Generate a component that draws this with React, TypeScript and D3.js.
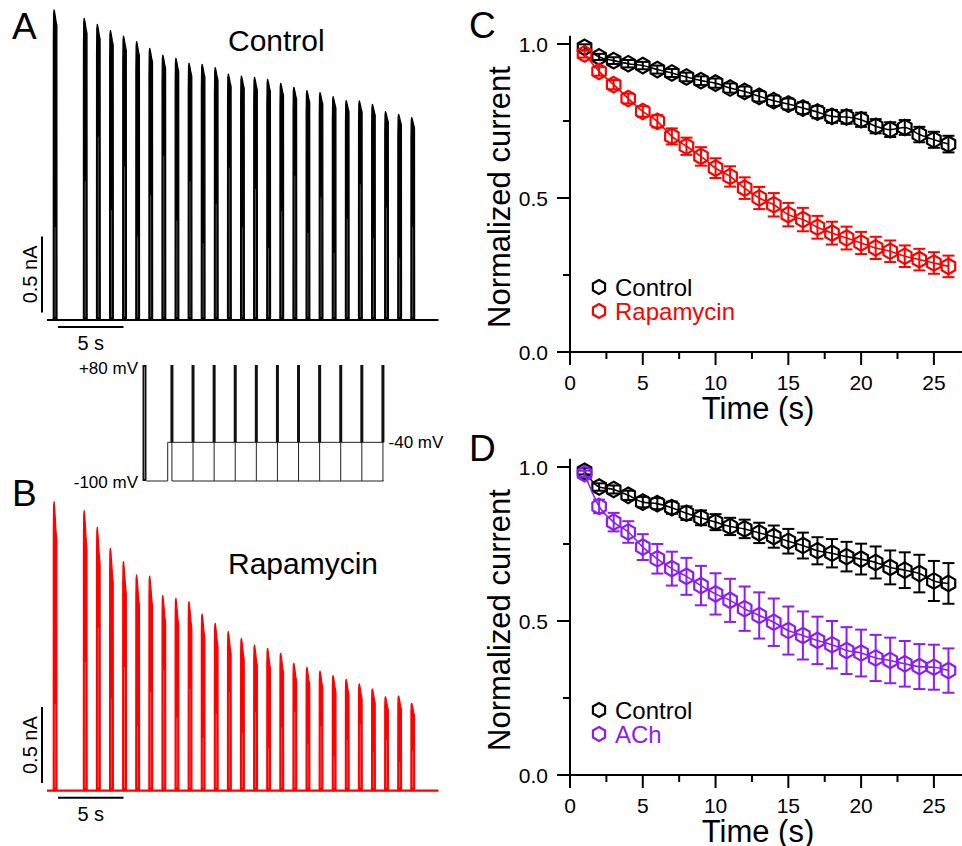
import React from "react";
import * as d3 from "d3";

const FONT = "'Liberation Sans', Arial, Helvetica, sans-serif";
const RED = "#FF0000";
const PURPLE = "#8A1EF5";

// ---------- Panels A/B: current traces ----------
const pulseTimes = [0, 2.3, 3.3, 4.3, 5.3, 6.3, 7.3, 8.3, 9.3, 10.3, 11.3, 12.3, 13.3, 14.3, 15.3, 16.3, 17.3, 18.3, 19.3, 20.3, 21.3, 22.3, 23.3, 24.3, 25.3, 26.3, 27.3];
const controlPeaks = [2.04, 1.985, 1.945, 1.904, 1.868, 1.831, 1.787, 1.743, 1.721, 1.689, 1.682, 1.66, 1.618, 1.605, 1.596, 1.583, 1.557, 1.531, 1.509, 1.496, 1.469, 1.443, 1.441, 1.419, 1.371, 1.353, 1.331];
const rapaPeaks = [1.901, 1.842, 1.732, 1.594, 1.507, 1.419, 1.412, 1.283, 1.265, 1.243, 1.162, 1.101, 1.046, 1.002, 0.958, 0.936, 0.904, 0.838, 0.811, 0.787, 0.757, 0.732, 0.702, 0.669, 0.618, 0.623, 0.575];
const pulseDuration = 0.27;

// ---------- Voltage protocol ----------
const protocolPulses = [1.3, 2.3, 3.3, 4.3, 5.3, 6.3, 7.3, 8.3, 9.3, 10.3, 11.3];
const protoStep = 1.1;
const protoEnd = 11.33;
const vTest = 80;
const vHold = -40;
const vRest = -100;

// ---------- Panels C/D ----------
const timePoints = [1, 2, 3, 4, 5, 6, 7, 8, 9, 10, 11, 12, 13, 14, 15, 16, 17, 18, 19, 20, 21, 22, 23, 24, 25, 26];
const cControl = [0.989, 0.958, 0.946, 0.936, 0.93, 0.917, 0.906, 0.893, 0.881, 0.873, 0.857, 0.846, 0.83, 0.816, 0.805, 0.792, 0.779, 0.765, 0.763, 0.754, 0.733, 0.722, 0.729, 0.706, 0.689, 0.675];
const cControlErr = [0.01, 0.01, 0.011, 0.012, 0.012, 0.013, 0.013, 0.014, 0.014, 0.015, 0.015, 0.016, 0.017, 0.017, 0.018, 0.019, 0.02, 0.021, 0.022, 0.023, 0.023, 0.024, 0.024, 0.025, 0.026, 0.027];
const cRapa = [0.968, 0.911, 0.868, 0.823, 0.781, 0.749, 0.7, 0.668, 0.635, 0.597, 0.57, 0.532, 0.5, 0.478, 0.446, 0.43, 0.405, 0.386, 0.37, 0.354, 0.338, 0.327, 0.311, 0.3, 0.289, 0.278];
const cRapaErr = [0.012, 0.014, 0.015, 0.016, 0.017, 0.02, 0.026, 0.028, 0.03, 0.032, 0.033, 0.035, 0.036, 0.038, 0.038, 0.038, 0.037, 0.037, 0.037, 0.036, 0.036, 0.035, 0.035, 0.035, 0.035, 0.035];
const dControl = [0.986, 0.935, 0.927, 0.908, 0.886, 0.881, 0.868, 0.85, 0.835, 0.821, 0.807, 0.799, 0.786, 0.774, 0.759, 0.745, 0.728, 0.72, 0.709, 0.701, 0.69, 0.674, 0.665, 0.654, 0.63, 0.622];
const dControlErr = [0.01, 0.012, 0.013, 0.015, 0.017, 0.018, 0.02, 0.022, 0.024, 0.026, 0.028, 0.03, 0.033, 0.036, 0.04, 0.042, 0.044, 0.046, 0.048, 0.05, 0.052, 0.055, 0.058, 0.061, 0.065, 0.066];
const dAch = [0.978, 0.872, 0.821, 0.789, 0.74, 0.702, 0.67, 0.645, 0.615, 0.588, 0.567, 0.54, 0.518, 0.496, 0.469, 0.453, 0.437, 0.423, 0.404, 0.396, 0.38, 0.372, 0.361, 0.352, 0.35, 0.339];
const dAchErr = [0.01, 0.022, 0.03, 0.035, 0.042, 0.048, 0.055, 0.06, 0.064, 0.067, 0.07, 0.072, 0.075, 0.077, 0.078, 0.078, 0.077, 0.077, 0.076, 0.076, 0.075, 0.074, 0.074, 0.073, 0.073, 0.072];
const xTicks = [0, 5, 10, 15, 20, 25];
const xMinor = [2.5, 7.5, 12.5, 17.5, 22.5];
const yTicks = [0, 0.5, 1.0];
const yMinor = [0.25, 0.75];

// ---------- helpers ----------
function spikePath(
  t0: number,
  peak: number,
  decay: number,
  xs: d3.ScaleLinear<number, number>,
  ys: d3.ScaleLinear<number, number>
) {
  const d = pulseDuration;
  const pts: [number, number][] = [
    [t0, 0],
    [t0 + 0.005, peak * 0.9],
    [t0 + 0.025, peak * 0.985],
    [t0 + 0.06, peak],
    [t0 + 0.1, peak * (1 - (1 - decay) * 0.15)],
    [t0 + 0.15, peak * (1 - (1 - decay) * 0.4)],
    [t0 + 0.2, peak * (1 - (1 - decay) * 0.7)],
    [t0 + d, peak * decay],
    [t0 + d + 0.01, 0],
  ];
  const line = d3
    .line<[number, number]>()
    .x((p) => xs(p[0]))
    .y((p) => ys(p[1]));
  return line(pts) + "Z";
}

function hexPath(r: number) {
  const pts: [number, number][] = d3.range(6).map((i) => {
    const a = -Math.PI / 2 + (i * Math.PI) / 3;
    return [r * Math.cos(a), r * Math.sin(a)];
  });
  return d3.line()(pts) + "Z";
}
const HEX = hexPath(7.8);

function TracePanel({
  peaks,
  color,
  baseY,
  title,
  titleY,
  label,
  labelY,
  decay,
}: {
  peaks: number[];
  color: string;
  baseY: number;
  title: string;
  titleY: number;
  label: string;
  labelY: number;
  decay: number;
}) {
  const xs = d3.scaleLinear().domain([0, 1]).range([53.3, 66.4]);
  const ys = d3.scaleLinear().domain([0, 2]).range([baseY, baseY - 304]);
  return (
    <g>
      <text x={12} y={labelY} fontSize={37} fontFamily={FONT} fill="#000">
        {label}
      </text>
      <line x1={xs(-0.48)} x2={xs(29.4)} y1={ys(0)} y2={ys(0)} stroke={color} strokeWidth={2.2} />
      {pulseTimes.map((t, i) => (
        <g key={i}>
          <path d={spikePath(t, peaks[i], decay, xs, ys)} fill={color} stroke={color} strokeWidth={1.3} strokeLinejoin="round" />
          <line
            x1={xs(t + pulseDuration / 2)}
            x2={xs(t + pulseDuration / 2)}
            y1={ys(0.02)}
            y2={ys(peaks[i] * (0.3 + 0.4 * ((i * 7) % 5) / 5))}
            stroke="#fff"
            strokeOpacity={0.45}
            strokeWidth={0.7}
          />
        </g>
      ))}
      {/* scale bars */}
      <line x1={42} x2={42} y1={ys(0.05)} y2={ys(0.55)} stroke="#000" strokeWidth={2} />
      <text
        transform={`translate(37,${(ys(0.05) + ys(0.55)) / 2}) rotate(-90)`}
        textAnchor="middle"
        fontSize={20}
        fontFamily={FONT}
        fill="#000"
      >
        0.5 nA
      </text>
      <line x1={xs(0.36)} x2={xs(5.36)} y1={ys(0) + 7} y2={ys(0) + 7} stroke="#000" strokeWidth={2} />
      <text x={(xs(0.36) + xs(5.36)) / 2} y={ys(0) + 30} textAnchor="middle" fontSize={20} fontFamily={FONT} fill="#000">
        5 s
      </text>
      <text x={228} y={titleY} fontSize={30} fontFamily={FONT} fill="#000">
        {title}
      </text>
    </g>
  );
}

function ProtocolTexts({ vs, xs }: { vs: d3.ScaleLinear<number, number>; xs: d3.ScaleLinear<number, number> }) {
  return (
    <g fontFamily={FONT} fontSize={17} fill="#000">
      <text x={138} y={vs(vTest) + 9} textAnchor="end">+80 mV</text>
      <text x={138} y={vs(vRest) + 7} textAnchor="end">-100 mV</text>
      <text x={xs(protoEnd) + 5} y={vs(vHold) + 6}>-40 mV</text>
    </g>
  );
}

function Protocol() {
  const xs = d3.scaleLinear().domain([0, 1]).range([144.5, 165.6]);
  const vs = d3.scaleLinear().domain([vRest, vTest]).range([481, 365]);
  return (
    <g>
      {/* pre-pulse */}
      <line x1={xs(0)} x2={xs(0)} y1={vs(vRest)} y2={vs(vTest)} stroke="#111" strokeWidth={4} />
      <line x1={xs(0)} x2={xs(0)} y1={vs(vRest) - 2} y2={vs(vTest) + 2} stroke="#999" strokeWidth={0.8} />
      <line x1={xs(0) + 2} x2={xs(protoStep)} y1={vs(vRest)} y2={vs(vRest)} stroke="#222" strokeWidth={1} />
      <line x1={xs(protoStep)} x2={xs(protoStep)} y1={vs(vRest)} y2={vs(vHold)} stroke="#222" strokeWidth={1} />
      <line x1={xs(protoStep)} x2={xs(protoEnd)} y1={vs(vHold)} y2={vs(vHold)} stroke="#222" strokeWidth={1} />
      <line x1={xs(protocolPulses[0])} x2={xs(protoEnd)} y1={vs(vRest)} y2={vs(vRest)} stroke="#222" strokeWidth={1} />
      {protocolPulses.map((p, i) => (
        <g key={i}>
          <line x1={xs(p)} x2={xs(p)} y1={vs(vHold)} y2={vs(vTest)} stroke="#111" strokeWidth={3} />
          <line x1={xs(p)} x2={xs(p)} y1={vs(vRest)} y2={vs(vHold)} stroke="#222" strokeWidth={1} />
        </g>
      ))}
      <ProtocolTexts vs={vs} xs={xs} />
    </g>
  );
}

type Series = { values: number[]; errs: number[]; color: string; name: string };

function DecayPanel({
  top,
  label,
  series,
}: {
  top: number;
  label: string;
  series: Series[];
}) {
  // top = pixel y of value 1.0
  const xs = d3.scaleLinear().domain([0, 27]).range([570, 963]);
  const ys = d3.scaleLinear().domain([0, 1]).range([top + 308, top]);
  const line = d3
    .line<number>()
    .x((_, i) => xs(timePoints[i]))
    .y((d) => ys(d))
    .curve(d3.curveMonotoneX);
  const y0 = ys(0);
  return (
    <g fontFamily={FONT}>
      <text x={469} y={top - 6} fontSize={37} fill="#000">
        {label}
      </text>
      {/* axes */}
      <line x1={570} x2={570} y1={ys(1.027)} y2={y0} stroke="#000" strokeWidth={2} />
      <line x1={558} x2={963} y1={y0} y2={y0} stroke="#000" strokeWidth={2} />
      {yTicks.map((v) => (
        <g key={v}>
          <line x1={557} x2={570} y1={ys(v)} y2={ys(v)} stroke="#000" strokeWidth={2} />
          <text x={548} y={ys(v) + 7.5} textAnchor="end" fontSize={21} fill="#000">
            {v.toFixed(1)}
          </text>
        </g>
      ))}
      {yMinor.map((v) => (
        <line key={v} x1={563} x2={570} y1={ys(v)} y2={ys(v)} stroke="#000" strokeWidth={2} />
      ))}
      {xTicks.map((v) => (
        <g key={v}>
          <line x1={xs(v)} x2={xs(v)} y1={y0} y2={y0 + 13} stroke="#000" strokeWidth={2} />
          <text x={xs(v)} y={y0 + 38} textAnchor="middle" fontSize={21} fill="#000">
            {v}
          </text>
        </g>
      ))}
      {xMinor.map((v) => (
        <line key={v} x1={xs(v)} x2={xs(v)} y1={y0} y2={y0 + 7} stroke="#000" strokeWidth={2} />
      ))}
      <text x={758} y={y0 + 67} textAnchor="middle" fontSize={31} fill="#000">
        Time (s)
      </text>
      <text
        transform={`translate(510,${top + 153}) rotate(-90)`}
        textAnchor="middle"
        fontSize={31}
        fill="#000"
      >
        Normalized current
      </text>
      {/* data */}
      {series.map((s) => (
        <g key={s.name}>
          <path d={line(s.values) || ""} fill="none" stroke={s.color} strokeWidth={1.6} />
          {s.values.map((v, i) => {
            const x = xs(timePoints[i]);
            const yl = ys(v - s.errs[i]);
            const yh = ys(v + s.errs[i]);
            return (
              <g key={i} stroke={s.color} strokeWidth={2} fill="none">
                <line x1={x} x2={x} y1={yl} y2={yh} />
                <line x1={x - 6} x2={x + 6} y1={yl} y2={yl} />
                <line x1={x - 6} x2={x + 6} y1={yh} y2={yh} />
                <path d={HEX} transform={`translate(${x},${ys(v)})`} strokeWidth={2.2} />
              </g>
            );
          })}
        </g>
      ))}
      {/* legend */}
      {series.map((s, i) => (
        <g key={"lg" + s.name} transform={`translate(599,${top + 243 + i * 24})`}>
          <path d={hexPath(7)} fill="none" stroke={s.color} strokeWidth={2.2} />
          <text x={16} y={8.5} fontSize={24} fill={s.color}>
            {s.name}
          </text>
        </g>
      ))}
    </g>
  );
}

export default function App() {
  return (
    <svg
      width={962}
      height={846}
      viewBox="0 0 962 846"
      style={{ position: "absolute", left: 0, top: 0, background: "#fff" }}
    >
      <rect width={962} height={846} fill="#fff" />
      <TracePanel peaks={controlPeaks} color="#000" baseY={320} title="Control" titleY={51} label="A" labelY={39} decay={0.95} />
      <Protocol />
      <TracePanel peaks={rapaPeaks} color={RED} baseY={790.7} title="Rapamycin" titleY={574} label="B" labelY={506} decay={0.86} />
      <DecayPanel
        top={44}
        label="C"
        series={[
          { values: cControl, errs: cControlErr, color: "#000", name: "Control" },
          { values: cRapa, errs: cRapaErr, color: RED, name: "Rapamycin" },
        ]}
      />
      <DecayPanel
        top={467}
        label="D"
        series={[
          { values: dControl, errs: dControlErr, color: "#000", name: "Control" },
          { values: dAch, errs: dAchErr, color: PURPLE, name: "ACh" },
        ]}
      />
    </svg>
  );
}
